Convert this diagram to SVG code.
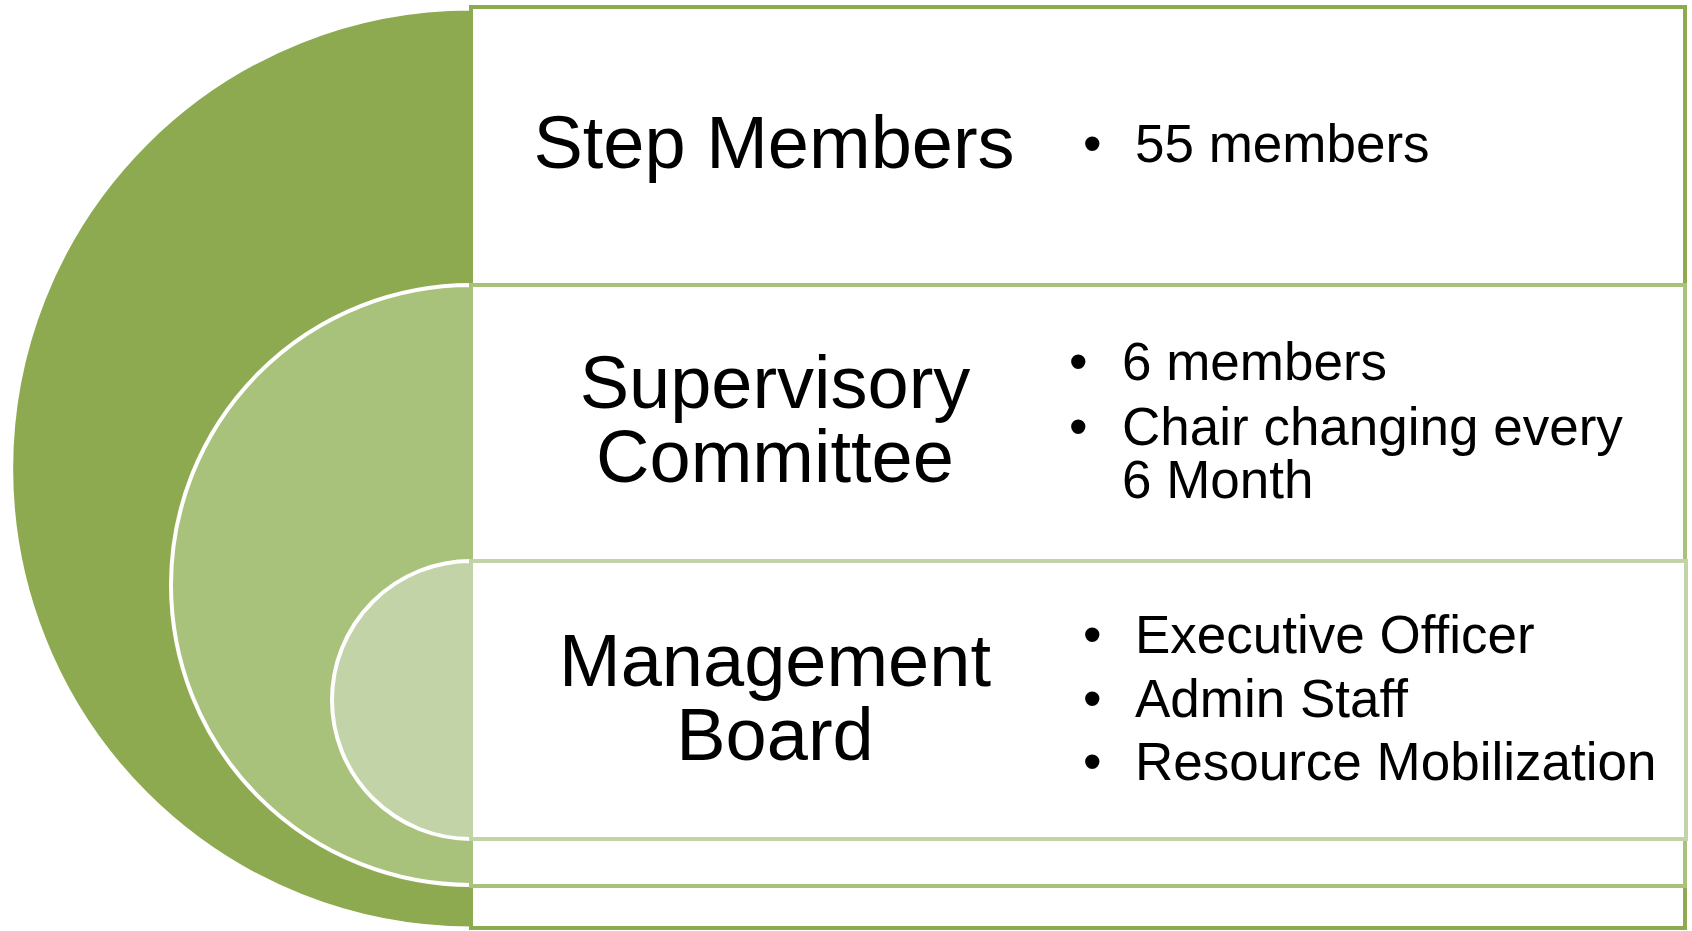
<svg xmlns="http://www.w3.org/2000/svg" width="1692" height="931" viewBox="0 0 1692 931">
  <style>
    .title { font-family: "Liberation Sans", Arial, sans-serif; font-size: 74px; fill: #000; text-anchor: middle; }
    .item { font-family: "Liberation Sans", Arial, sans-serif; font-size: 53px; fill: #000; }
    .arc { stroke: #fff; stroke-width: 4; }
    .box { fill: #fff; stroke-width: 4; }
  </style>
  <rect x="0" y="0" width="1692" height="931" fill="#fff"/>
  <g id="level-step-members">
    <path class="arc" d="M 471 8.5 A 460 460 0 0 0 471 928.5 Z" fill="#8DAA51"/>
    <rect class="box" x="471" y="7" width="1214" height="921" stroke="#8DAA51"/>
    <text class="title" x="774" y="168">Step Members</text>
    <text class="item" x="1083" y="162">•</text>
    <text class="item" x="1135" y="162">55 members</text>
  </g>
  <g id="level-supervisory-committee">
    <path class="arc" d="M 471 285 A 300 300 0 0 0 471 885 Z" fill="#A8C17B"/>
    <rect class="box" x="471" y="285" width="1214" height="601" stroke="#A8C17B"/>
    <text class="title" x="775" y="408">Supervisory</text>
    <text class="title" x="775" y="482">Committee</text>
    <text class="item" x="1069" y="380">•</text>
    <text class="item" x="1122" y="380">6 members</text>
    <text class="item" x="1069" y="445">•</text>
    <text class="item" x="1122" y="445">Chair changing every</text>
    <text class="item" x="1122" y="498">6 Month</text>
  </g>
  <g id="level-management-board">
    <path class="arc" d="M 471 561 A 139 139 0 0 0 471 839 Z" fill="#C2D3A7"/>
    <rect class="box" x="471" y="561" width="1215" height="278" stroke="#C2D3A7"/>
    <text class="title" x="775" y="686">Management</text>
    <text class="title" x="775" y="760">Board</text>
    <text class="item" x="1083" y="653">•</text>
    <text class="item" x="1135" y="653">Executive Officer</text>
    <text class="item" x="1083" y="717">•</text>
    <text class="item" x="1135" y="717">Admin Staff</text>
    <text class="item" x="1083" y="780">•</text>
    <text class="item" x="1135" y="780">Resource Mobilization</text>
  </g>
  <g id="connectors"></g>
</svg>
